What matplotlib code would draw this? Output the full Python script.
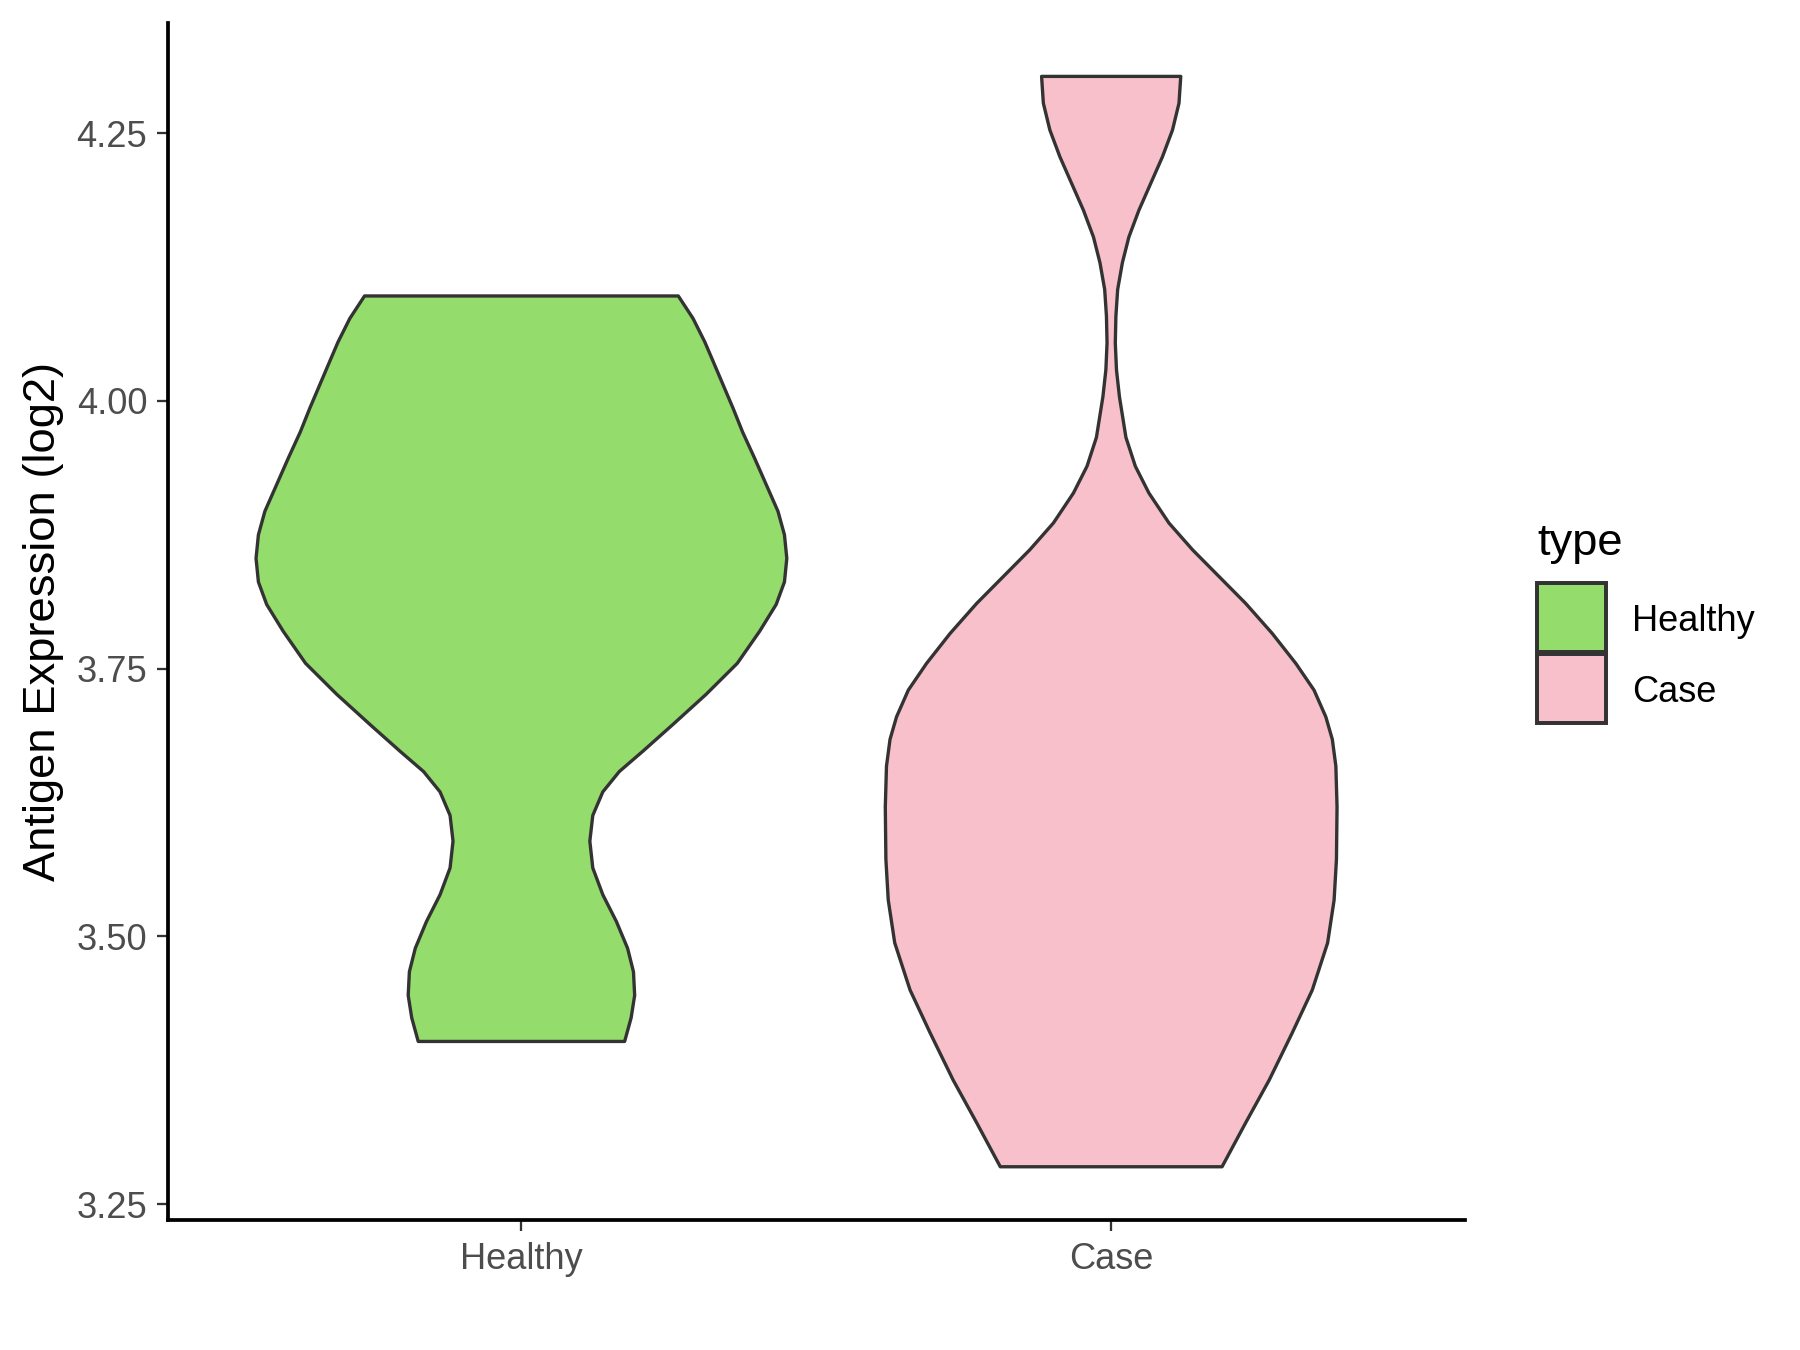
import matplotlib
matplotlib.use("Agg")
import matplotlib.pyplot as plt
from matplotlib.patches import Rectangle
import numpy as np

plt.rcParams['font.family'] = ['Liberation Sans', 'DejaVu Sans']

# violin outlines: y value and half-width (x units)
groups = ['Healthy', 'Case']
colors = ['#94DC6B', '#F7C0CB']

healthy_y = [4.098, 4.077, 4.055, 4.037, 4.015, 3.993, 3.971, 3.947, 3.922,
             3.897, 3.875, 3.853, 3.831, 3.810, 3.785, 3.755, 3.726, 3.698,
             3.673, 3.654, 3.635, 3.613, 3.589, 3.564, 3.539, 3.514, 3.489,
             3.467, 3.445, 3.424, 3.402]
healthy_w = [0.266, 0.291, 0.311, 0.325, 0.342, 0.359, 0.375, 0.395, 0.415,
             0.435, 0.446, 0.450, 0.446, 0.432, 0.404, 0.366, 0.313, 0.257,
             0.206, 0.166, 0.138, 0.121, 0.116, 0.121, 0.138, 0.161, 0.180,
             0.190, 0.192, 0.186, 0.175]

case_y = [4.303, 4.278, 4.253, 4.228, 4.203, 4.178, 4.153, 4.129, 4.104,
          4.079, 4.054, 4.029, 4.004, 3.966, 3.939, 3.914, 3.886, 3.861,
          3.836, 3.811, 3.783, 3.755, 3.730, 3.705, 3.684, 3.659, 3.621,
          3.572, 3.534, 3.494, 3.450, 3.410, 3.366, 3.326, 3.285]
case_w = [0.118, 0.115, 0.104, 0.087, 0.067, 0.047, 0.030, 0.019, 0.011,
          0.008, 0.007, 0.009, 0.014, 0.025, 0.041, 0.064, 0.098, 0.138,
          0.183, 0.228, 0.273, 0.313, 0.344, 0.364, 0.375, 0.381, 0.383,
          0.382, 0.378, 0.367, 0.341, 0.307, 0.268, 0.228, 0.188]

yticks = [3.25, 3.50, 3.75, 4.00, 4.25]

fig, ax = plt.subplots(figsize=(12, 9), dpi=150)
fig.subplots_adjust(left=0.0931, right=0.8139, bottom=0.0963, top=0.983)

for i, (ys, ws) in enumerate([(healthy_y, healthy_w), (case_y, case_w)]):
    pos = i + 1
    ys = np.array(ys)
    ws = np.array(ws)
    xs = np.concatenate([pos - ws, (pos + ws)[::-1]])
    yy = np.concatenate([ys, ys[::-1]])
    ax.fill(xs, yy, facecolor=colors[i], edgecolor='#333333', linewidth=1.6,
            joinstyle='round')

ax.set_xlim(0.4, 2.6)
ax.set_ylim(3.2353, 4.3529)
ax.set_xticks([1, 2])
ax.set_xticklabels(groups)
ax.set_yticks(yticks)
ax.set_yticklabels(['%.2f' % t for t in yticks])
ax.set_ylabel('Antigen Expression (log2)', fontsize=21.75, labelpad=6)

for s in ['top', 'right']:
    ax.spines[s].set_visible(False)
for s in ['left', 'bottom']:
    ax.spines[s].set_linewidth(1.8)
    ax.spines[s].set_color('black')
ax.tick_params(axis='both', length=5.4, width=1.1, color='#333333',
               labelcolor='#4D4D4D', labelsize=17.4)
ax.tick_params(axis='x', pad=5.2)
ax.tick_params(axis='y', pad=4.4)

# legend drawn by hand, ggplot style
fig.text(0.8539, 0.5889, 'type', fontsize=21.75, va='baseline', ha='left')
key_bottoms = [0.5170, 0.4644]
for c, lab, b in zip(colors, groups, key_bottoms):
    fig.patches.append(Rectangle((0.8539, b), 0.0383, 0.0511,
                                 transform=fig.transFigure, facecolor=c,
                                 edgecolor='#333333', linewidth=1.9))
    fig.text(0.9067, b + 0.0229, lab, fontsize=17.4, va='center', ha='left')

fig.savefig('out.png', dpi=150)
